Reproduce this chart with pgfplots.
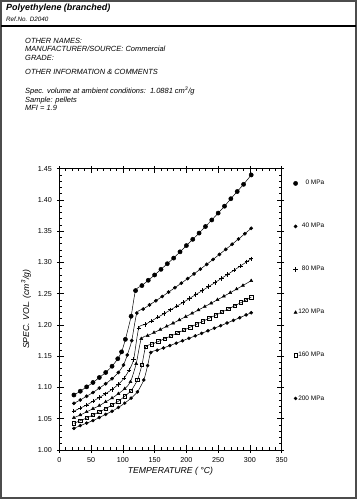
\documentclass[border=0pt]{standalone}
\usepackage{fontspec}
\setmainfont{Liberation Sans}
\usepackage{pgfplots}
\pgfplotsset{compat=1.18}
\begin{document}
\begin{tikzpicture}
\path[use as bounding box] (0,0) rectangle (357bp,499bp);
\draw[black!70, line width=1.8bp] (1bp,1bp) rectangle (356bp,498bp);
\draw[black, line width=1.6bp] (1bp,473bp) -- (356bp,473bp);
\node[anchor=base west, inner sep=0pt, font=\fontsize{9}{10}\selectfont\bfseries\itshape] at (6bp,488bp) {Polyethylene (branched)};
\node[anchor=base west, inner sep=0pt, font=\fontsize{6.3}{7}\selectfont\itshape] at (6bp,477bp) {Ref.No. D2040};
\begin{scope}[every node/.style={anchor=base west, inner sep=0pt, font=\fontsize{7.5}{8}\selectfont\itshape}]
\node at (25bp,455.5bp) {OTHER NAMES:};
\node at (25bp,447bp) {MANUFACTURER/SOURCE: Commercial};
\node at (25bp,438.5bp) {GRADE:};
\node at (25bp,424.3bp) {OTHER INFORMATION \& COMMENTS};
\node at (25bp,405bp) {Spec. volume at ambient conditions:\ \ 1.0881 cm\textsuperscript{3}/g};
\node at (25bp,396.5bp) {Sample: pellets};
\node at (25bp,388bp) {MFI = 1.9};
\end{scope}
\begin{axis}[
  at={(59.3bp,49bp)}, anchor=south west, scale only axis,
  width=222.4bp, height=281.3bp,
  xmin=0, xmax=350, ymin=1, ymax=1.45,
  xtick={0,50,100,150,200,250,300,350},
  ytick={1.00,1.05,1.10,1.15,1.20,1.25,1.30,1.35,1.40,1.45},
  tick align=outside, major tick length=2.5bp,
  tick style={black, line width=0.6bp},
  axis line style={draw=none},
  xticklabels={}, yticklabels={},
]
\end{axis}
\begin{axis}[
  at={(59.3bp,49bp)}, anchor=south west, scale only axis,
  width=222.4bp, height=281.3bp,
  xmin=0, xmax=350, ymin=1, ymax=1.45,
  xtick={0,50,100,150,200,250,300,350},
  ytick={1.00,1.05,1.10,1.15,1.20,1.25,1.30,1.35,1.40,1.45},
  minor x tick num=4, minor y tick num=4,
  tick align=inside, major tick length=4.5bp, minor tick length=2.5bp,
  tick style={black, line width=0.6bp},
  axis line style={black, line width=0.9bp},
  /pgf/number format/assume math mode=true,
  ticklabel style={font=\fontsize{7.2}{8}\selectfont},
  yticklabel style={xshift=-4bp, /pgf/number format/.cd, fixed, fixed zerofill, precision=2},
  xticklabel style={yshift=-3.5bp},
  xlabel={TEMPERATURE ( °C)},
  ylabel={SPEC. VOL. (cm\textsuperscript{3}/g)},
  label style={font=\fontsize{8.7}{9}\selectfont\itshape},
  xlabel style={yshift=2bp},
  ylabel style={yshift=0bp},
  legend cell align=right,
  legend image code/.code={\draw[#1] plot[only marks] coordinates {(0bp,0bp)};},
  legend style={at={(1,1)}, anchor=north west, xshift=11.5bp, yshift=-11bp,
    draw=none, fill=none, inner sep=0pt,
    font=\fontsize{6.5}{7}\selectfont, row sep=36bp,
    nodes={inner sep=0.5bp},
    /tikz/every even column/.append style={column sep=6.5bp}},
]
\addplot[black, line width=0.5bp, smooth, tension=0.4, mark=*, mark size=2.1bp, mark options={fill=black, draw=black}] coordinates {
(23,1.088)(33,1.094)(43,1.101)(53,1.108)(63,1.116)(73,1.124)(83,1.134)(92,1.146)(98,1.157)(104,1.177)(113,1.214)(120,1.255)(130,1.263)(140,1.2715)(150,1.280)(160,1.289)(170,1.298)(180,1.307)(190,1.317)(200,1.327)(210,1.337)(220,1.347)(230,1.3575)(240,1.368)(250,1.379)(260,1.390)(270,1.402)(280,1.4135)(290,1.425)(302,1.440)};
\addlegendentry{0 MPa}
\addplot[black, line width=0.5bp, smooth, tension=0.4, mark=*, mark size=1.6bp, mark options={fill=black, draw=black}] coordinates {
(23,1.0746)(33,1.080)(43,1.086)(53,1.092)(63,1.099)(73,1.106)(83,1.114)(93,1.124)(101,1.136)(107,1.152)(114,1.175)(122,1.219)(132,1.2255)(142,1.2321)(152,1.2388)(162,1.2456)(172,1.2526)(182,1.2597)(192,1.2669)(202,1.2742)(212,1.2817)(222,1.2893)(232,1.2970)(242,1.3049)(252,1.3129)(262,1.3210)(272,1.3292)(282,1.3375)(292,1.3460)(302,1.3546)};
\addlegendentry{40 MPa}
\addplot[black, line width=0.5bp, smooth, tension=0.4, mark=+, mark size=2.2bp, mark options={draw=black, line width=0.9bp}] coordinates {
(23,1.0623)(33,1.067)(43,1.072)(53,1.078)(63,1.084)(73,1.090)(83,1.097)(93,1.105)(102,1.115)(110,1.128)(117,1.145)(125,1.195)(135,1.2007)(145,1.2064)(155,1.2123)(165,1.2181)(175,1.2241)(185,1.2301)(195,1.2362)(205,1.2424)(215,1.2487)(225,1.2550)(235,1.2614)(245,1.2678)(255,1.2744)(265,1.2810)(275,1.2876)(285,1.2944)(295,1.3012)(302,1.306)};
\addlegendentry{80 MPa}
\addplot[black, line width=0.5bp, smooth, tension=0.4, mark=triangle*, mark size=1.7bp, mark options={fill=black, draw=black}] coordinates {
(23,1.0516)(33,1.056)(43,1.061)(53,1.066)(63,1.071)(73,1.077)(83,1.083)(93,1.090)(103,1.098)(112,1.109)(121,1.138)(129,1.178)(139,1.1829)(149,1.1878)(159,1.1928)(169,1.1978)(179,1.2029)(189,1.2081)(199,1.2133)(209,1.2186)(219,1.2240)(229,1.2294)(239,1.2349)(249,1.2404)(259,1.2460)(269,1.2517)(279,1.2574)(289,1.2632)(302,1.2708)};
\addlegendentry{120 MPa}
\addplot[black, line width=0.5bp, smooth, tension=0.4, mark=square, mark size=1.7bp, mark options={fill=white, draw=black, line width=0.7bp}] coordinates {
(23,1.0426)(33,1.047)(43,1.051)(53,1.056)(63,1.061)(73,1.066)(83,1.072)(93,1.078)(103,1.086)(113,1.095)(123,1.112)(130,1.136)(136,1.165)(146,1.1693)(156,1.1737)(166,1.1781)(176,1.1826)(186,1.1872)(196,1.1918)(206,1.1965)(216,1.2012)(226,1.2060)(236,1.2108)(246,1.2157)(256,1.2207)(266,1.2257)(276,1.2307)(286,1.2359)(294,1.2401)(302,1.2442)};
\addlegendentry{160 MPa}
\addplot[black, line width=0.5bp, smooth, tension=0.4, mark=*, mark size=1.5bp, mark options={fill=black, draw=black}] coordinates {
(23,1.0346)(33,1.039)(43,1.043)(53,1.047)(63,1.052)(73,1.057)(83,1.062)(93,1.068)(103,1.075)(113,1.083)(123,1.093)(133,1.112)(139,1.135)(144,1.156)(154,1.1596)(164,1.1633)(174,1.1671)(184,1.1709)(194,1.1748)(204,1.1787)(214,1.1826)(224,1.1866)(234,1.1907)(244,1.1948)(254,1.1989)(264,1.2031)(274,1.2074)(284,1.2117)(294,1.2161)(302,1.2196)};
\addlegendentry{200 MPa}
\end{axis}
\end{tikzpicture}
\end{document}
